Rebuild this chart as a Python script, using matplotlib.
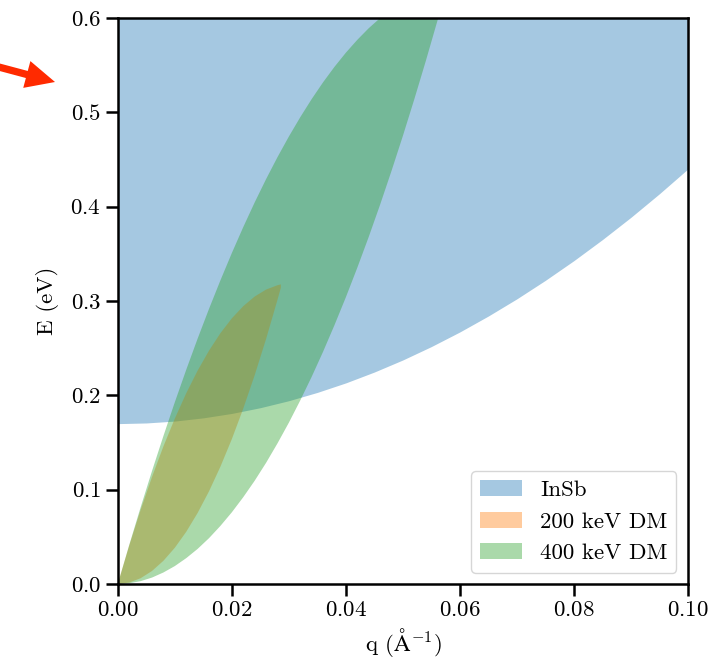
import matplotlib
matplotlib.use("Agg")
import numpy as np
import matplotlib.pyplot as plt
from matplotlib.patches import FancyArrowPatch

# Banda del InSb: borde inferior E(q)
q_insb = [0.000, 0.005, 0.010, 0.015, 0.020, 0.025, 0.030, 0.035, 0.040, 0.045, 0.050,
          0.055, 0.060, 0.065, 0.070, 0.075, 0.080, 0.085, 0.090, 0.095, 0.100]
e_insb = [0.1700, 0.1707, 0.1727, 0.1761, 0.1808, 0.1869, 0.1943, 0.2031, 0.2132, 0.2247, 0.2375,
          0.2517, 0.2672, 0.2841, 0.3023, 0.3219, 0.3428, 0.3651, 0.3887, 0.4137, 0.4400]

# Región cinemática, DM de 200 keV
q_dm200 = [0.000, 0.002, 0.004, 0.006, 0.008, 0.010, 0.012, 0.014,
           0.016, 0.018, 0.020, 0.022, 0.024, 0.026, 0.028, 0.0286]
e_dm200_sup = [0.0, 0.0406, 0.0785, 0.1135, 0.1459, 0.1754, 0.2022, 0.2262,
               0.2474, 0.2659, 0.2816, 0.2945, 0.3047, 0.3121, 0.3167, 0.3176]
e_dm200_inf = [0.0, 0.0015, 0.0061, 0.0138, 0.0246, 0.0384, 0.0553, 0.0753,
               0.0983, 0.1244, 0.1536, 0.1859, 0.2212, 0.2596, 0.3011, 0.3141]

# Región cinemática, DM de 400 keV
q_dm400 = [0.000, 0.002, 0.004, 0.006, 0.008, 0.010, 0.012, 0.014, 0.016, 0.018,
           0.020, 0.022, 0.024, 0.026, 0.028, 0.030, 0.032, 0.034, 0.036, 0.038,
           0.040, 0.042, 0.044, 0.046, 0.048, 0.050, 0.052, 0.054, 0.056, 0.0579]
e_dm400_sup = [0.0, 0.0413, 0.0812, 0.1198, 0.1569, 0.1927, 0.2271, 0.2601, 0.2917, 0.3219,
               0.3508, 0.3783, 0.4044, 0.4291, 0.4524, 0.4743, 0.4948, 0.5140, 0.5318, 0.5482,
               0.5632, 0.5768, 0.5891, 0.5999, 0.6094, 0.6175, 0.6242, 0.6295, 0.6335, 0.6360]
e_dm400_inf = [0.0, 0.0008, 0.0030, 0.0068, 0.0122, 0.0190, 0.0274, 0.0372, 0.0486, 0.0616,
               0.0760, 0.0920, 0.1094, 0.1284, 0.1490, 0.1710, 0.1946, 0.2196, 0.2462, 0.2744,
               0.3040, 0.3352, 0.3678, 0.4020, 0.4378, 0.4750, 0.5138, 0.5540, 0.5958, 0.6360]

etiquetas = ["InSb", "200 keV DM", "400 keV DM"]
q_lim = (0.0, 0.1)
e_lim = (0.0, 0.6)

plt.rcParams["font.family"] = "serif"
plt.rcParams["font.serif"] = ["cmr10", "DejaVu Serif"]
plt.rcParams["mathtext.fontset"] = "cm"
plt.rcParams["axes.formatter.use_mathtext"] = True
plt.rcParams["font.size"] = 16.5

fig = plt.figure(figsize=(7.14, 6.64), dpi=100)
ax = fig.add_axes([0.165, 0.1205, 0.7985, 0.8524])

ax.fill_between(q_insb, e_insb, e_lim[1], color="C0", alpha=0.4, lw=0, label=etiquetas[0])

def lente(q, sup, inf):
    xs = np.concatenate([q, q[::-1]])
    ys = np.concatenate([sup, inf[::-1]])
    return xs, ys

x200, y200 = lente(np.array(q_dm200), np.array(e_dm200_sup), np.array(e_dm200_inf))
ax.fill(x200, y200, color="C1", alpha=0.4, lw=0, label=etiquetas[1])
x400, y400 = lente(np.array(q_dm400), np.array(e_dm400_sup), np.array(e_dm400_inf))
ax.fill(x400, y400, color="C2", alpha=0.4, lw=0, label=etiquetas[2])

ax.set_xlim(*q_lim)
ax.set_ylim(*e_lim)
ax.set_xticks([0.0, 0.02, 0.04, 0.06, 0.08, 0.10])
ax.set_yticks([0.0, 0.1, 0.2, 0.3, 0.4, 0.5, 0.6])
ax.set_xlabel(r"q ($\mathrm{\AA}^{-1}$)")
ax.set_ylabel("E (eV)", labelpad=8)
ax.tick_params(direction="out", length=8.5, width=1.8)
for s in ax.spines.values():
    s.set_linewidth(1.8)

ax.legend(loc="lower right", fancybox=True, framealpha=0.8, edgecolor="0.8",
          handlelength=1.8, borderaxespad=0.5)

# Flecha roja en el margen izquierdo
flecha = FancyArrowPatch((-5, 598), (55, 582), transform=None,
                         arrowstyle="simple,head_length=1.0,head_width=0.95,tail_width=0.25",
                         mutation_scale=21, color="#ff2a00", lw=0, shrinkA=0, shrinkB=0)
fig.patches.append(flecha)

fig.savefig("out.png", dpi=100)
